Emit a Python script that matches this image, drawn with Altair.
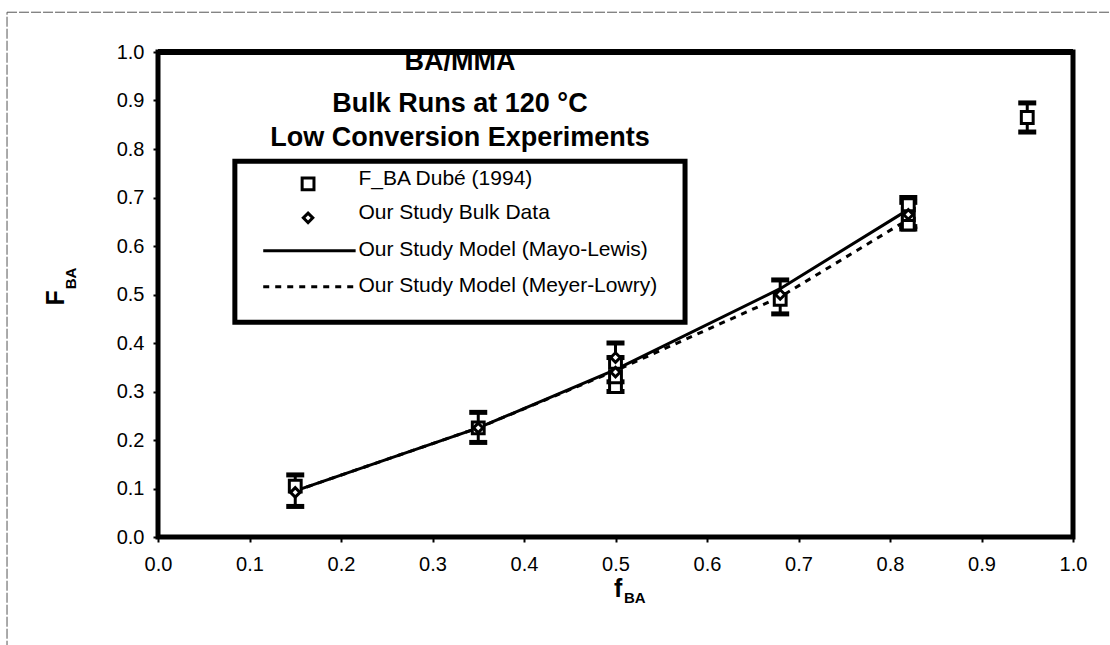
import altair as alt
import pandas as pd

# ---- data ----
dube_x = [0.15, 0.35, 0.50, 0.50, 0.50, 0.68, 0.82, 0.82, 0.82, 0.95]
dube_y = [0.105, 0.225, 0.31, 0.33, 0.36, 0.49, 0.645, 0.665, 0.685, 0.865]

ours_x = [0.15, 0.35, 0.50, 0.50, 0.68, 0.82]
ours_y = [0.092, 0.225, 0.34, 0.37, 0.50, 0.665]

eb_x = [0.15, 0.35, 0.50, 0.50, 0.68, 0.82, 0.82, 0.95]
eb_lo = [0.063, 0.195, 0.30, 0.32, 0.46, 0.635, 0.64, 0.835]
eb_hi = [0.128, 0.257, 0.37, 0.40, 0.53, 0.69, 0.70, 0.895]

model_x = [0.15, 0.35, 0.50, 0.68, 0.82]
mayo_y = [0.095, 0.225, 0.345, 0.512, 0.675]
meyer_y = [0.095, 0.225, 0.343, 0.495, 0.655]

title_lines = ["BA/MMA", "Bulk Runs at 120 °C", "Low Conversion Experiments"]
title_y = [0.98, 0.893, 0.823]

legend_labels = ["F_BA Dubé (1994)", "Our Study Bulk Data",
                 "Our Study Model (Mayo-Lewis)", "Our Study Model (Meyer-Lowry)"]
legend_text_y = [0.738, 0.668, 0.592, 0.518]

FONT = "Liberation Sans"

xs = alt.Scale(domain=[0, 1], nice=False, zero=False)
ys = alt.Scale(domain=[0, 1], nice=False, zero=False)

dube = pd.DataFrame({"x": dube_x, "y": dube_y})
ours = pd.DataFrame({"x": ours_x, "y": ours_y})
eb = pd.DataFrame({"x": eb_x, "lo": eb_lo, "hi": eb_hi})
mayo = pd.DataFrame({"x": model_x, "y": mayo_y})
meyer = pd.DataFrame({"x": model_x, "y": meyer_y})

X = alt.X("x:Q", scale=xs, axis=alt.Axis(values=[i / 10 for i in range(11)], format=".1f",
                                         title=None, grid=False, domain=False, tickSize=5,
                                         tickWidth=2, labelPadding=12, labelFontSize=20,
                                         labelFlush=False,
                                         labelFont=FONT, labelColor="black", tickColor="black"))
Y = alt.Y("y:Q", scale=ys, axis=alt.Axis(values=[i / 10 for i in range(11)], format=".1f",
                                         title=None, grid=False, domain=False, tickSize=5,
                                         tickWidth=2, labelPadding=9, labelFontSize=20,
                                         labelFlush=False,
                                         labelFont=FONT, labelColor="black", tickColor="black"))

base_axes = alt.Chart(dube).mark_point(opacity=0).encode(x=X, y=Y)

line_mayo = alt.Chart(mayo).mark_line(color="black", strokeWidth=3).encode(
    x=alt.X("x:Q", scale=xs), y=alt.Y("y:Q", scale=ys))
line_meyer = alt.Chart(meyer).mark_line(color="black", strokeWidth=3, strokeDash=[6, 6]).encode(
    x=alt.X("x:Q", scale=xs), y=alt.Y("y:Q", scale=ys))

eb_rule = alt.Chart(eb).mark_rule(color="black", strokeWidth=3).encode(
    x=alt.X("x:Q", scale=xs), y=alt.Y("lo:Q", scale=ys), y2="hi:Q")
eb_cap_lo = alt.Chart(eb).mark_tick(color="black", thickness=5, size=18, orient="horizontal",
                                    opacity=1).encode(
    x=alt.X("x:Q", scale=xs), y=alt.Y("lo:Q", scale=ys))
eb_cap_hi = alt.Chart(eb).mark_tick(color="black", thickness=5, size=18, orient="horizontal",
                                    opacity=1).encode(
    x=alt.X("x:Q", scale=xs), y=alt.Y("hi:Q", scale=ys))

sq = alt.Chart(dube).mark_point(shape="square", size=140, filled=True, fill="white",
                                stroke="black", strokeWidth=3, opacity=1).encode(
    x=alt.X("x:Q", scale=xs), y=alt.Y("y:Q", scale=ys))
dm = alt.Chart(ours).mark_point(shape="diamond", size=90, filled=True, fill="white",
                                stroke="black", strokeWidth=3, opacity=1).encode(
    x=alt.X("x:Q", scale=xs), y=alt.Y("y:Q", scale=ys))

# title inside plot
title_df = pd.DataFrame({"t": title_lines, "y": title_y, "x": [0.33] * 3})
title = alt.Chart(title_df).mark_text(font=FONT, fontSize=27, fontWeight="bold",
                                      align="center", baseline="middle", color="black").encode(
    x=alt.X("x:Q", scale=xs), y=alt.Y("y:Q", scale=ys), text="t:N")

# top frame edge drawn over the first title line (it is cut off in the reference)
top_edge = alt.Chart(pd.DataFrame({"x": [0.0], "x2": [1.0], "y": [1.0]})).mark_rule(
    color="black", strokeWidth=6).encode(x=alt.X("x:Q", scale=xs), x2="x2:Q", y=alt.Y("y:Q", scale=ys))

# legend box
leg_box_df = pd.DataFrame({"x": [0.084], "x2": [0.576], "y": [0.443], "y2": [0.775]})
leg_box = alt.Chart(leg_box_df).mark_rect(fill="white", stroke="black", strokeWidth=5).encode(
    x=alt.X("x:Q", scale=xs), x2="x2:Q", y=alt.Y("y:Q", scale=ys), y2="y2:Q")
leg_text_df = pd.DataFrame({"t": legend_labels, "y": legend_text_y, "x": [0.219] * 4})
leg_text = alt.Chart(leg_text_df).mark_text(font=FONT, fontSize=21, align="left",
                                            baseline="middle", color="black").encode(
    x=alt.X("x:Q", scale=xs), y=alt.Y("y:Q", scale=ys), text="t:N")
leg_sq = alt.Chart(pd.DataFrame({"x": [0.164], "y": [0.728]})).mark_point(
    shape="square", size=140, filled=True, fill="white", stroke="black", strokeWidth=3, opacity=1).encode(
    x=alt.X("x:Q", scale=xs), y=alt.Y("y:Q", scale=ys))
leg_dm = alt.Chart(pd.DataFrame({"x": [0.164], "y": [0.658]})).mark_point(
    shape="diamond", size=90, filled=True, fill="white", stroke="black", strokeWidth=3, opacity=1).encode(
    x=alt.X("x:Q", scale=xs), y=alt.Y("y:Q", scale=ys))
leg_l1 = alt.Chart(pd.DataFrame({"x": [0.115, 0.216], "y": [0.590, 0.590]})).mark_line(
    color="black", strokeWidth=3).encode(x=alt.X("x:Q", scale=xs), y=alt.Y("y:Q", scale=ys))
leg_l2 = alt.Chart(pd.DataFrame({"x": [0.115, 0.216], "y": [0.516, 0.516]})).mark_line(
    color="black", strokeWidth=3, strokeDash=[6, 6]).encode(x=alt.X("x:Q", scale=xs), y=alt.Y("y:Q", scale=ys))

# axis titles with subscripts
big = pd.DataFrame({"t": ["F", "f"], "x": [-0.111, 0.503], "y": [0.493, -0.108]})
sub = pd.DataFrame({"t": ["BA", "BA"], "x": [-0.095, 0.521], "y": [0.533, -0.125]})
ytitle = alt.Chart(big.iloc[[0]]).mark_text(font=FONT, fontSize=25, fontWeight="bold", angle=270,
                                            align="center", baseline="middle", color="black").encode(
    x=alt.X("x:Q", scale=xs), y=alt.Y("y:Q", scale=ys), text="t:N")
ysub = alt.Chart(sub.iloc[[0]]).mark_text(font=FONT, fontSize=15, fontWeight="bold", angle=270,
                                          align="center", baseline="middle", color="black").encode(
    x=alt.X("x:Q", scale=xs), y=alt.Y("y:Q", scale=ys), text="t:N")
xtitle = alt.Chart(big.iloc[[1]]).mark_text(font=FONT, fontSize=25, fontWeight="bold",
                                            align="center", baseline="middle", color="black").encode(
    x=alt.X("x:Q", scale=xs), y=alt.Y("y:Q", scale=ys), text="t:N")
xsub = alt.Chart(sub.iloc[[1]]).mark_text(font=FONT, fontSize=15, fontWeight="bold",
                                          align="center", baseline="middle", color="black").encode(
    x=alt.X("x:Q", scale=xs), y=alt.Y("y:Q", scale=ys), text="t:N")

# page frame (scanned border): only top and left edges are visible
frame_df = pd.DataFrame({"x": [-0.165], "x2": [1.3], "y": [-0.4], "y2": [1.082]})
frame = alt.Chart(frame_df).mark_rect(fill=None, stroke="#555555", strokeWidth=1,
                                      strokeDash=[10, 2]).encode(
    x=alt.X("x:Q", scale=xs), x2="x2:Q", y=alt.Y("y:Q", scale=ys), y2="y2:Q")

chart = alt.layer(
    base_axes, frame, line_meyer, line_mayo, eb_rule, eb_cap_lo, eb_cap_hi, sq, dm,
    title, top_edge, leg_box, leg_text, leg_sq, leg_dm, leg_l1, leg_l2,
    ytitle, ysub, xtitle, xsub
).properties(
    width=915, height=485,
    autosize=alt.AutoSizeParams(type="none"),
    padding={"left": 158, "top": 52, "right": 37, "bottom": 108},
    background="white",
).configure_view(stroke="black", strokeWidth=5)

chart.save("out.html", embed_options={"renderer": "svg", "actions": False})
